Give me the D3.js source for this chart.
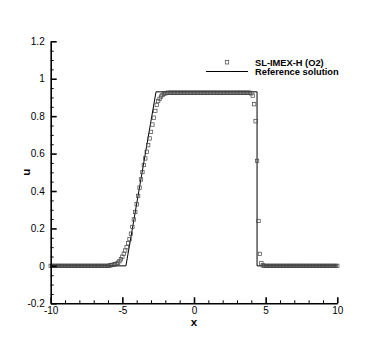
<!DOCTYPE html>
<html><head><meta charset="utf-8">
<script src="https://cdn.jsdelivr.net/npm/d3@7"></script>
<style>
body{margin:0;background:#fff;}
svg{display:block;font-family:"Liberation Sans",Arial,Helvetica,sans-serif;}
</style></head>
<body><svg id="c" width="384" height="342"></svg>
<script>
// Numerical solution SL-IMEX-H (O2): cell grid x = -10 .. 10, step 0.1
const gridStart = -10, gridEnd = 10, gridStep = 0.1;
const numU = [
 0,0,0,0,0,0,0,0,0,0, 0,0,0,0,0,0,0,0,0,0, 0,0,0,0,0,0,0,0,0,0, 0,0,0,0,0,0,0,0,0,0, 0,
 0.002,0.003,0.005,0.007,0.009,0.012,0.017,0.025,0.035,
 0.049,0.065,0.082,0.100,0.121,0.143,0.172,0.208,0.248,0.288,
 0.329,0.374,0.418,0.462,0.501,0.539,0.574,0.610,0.645,0.681,
 0.716,0.755,0.792,0.828,0.860,0.881,0.893,0.905,0.913,0.919,
 0.922,0.924,
 0.925,0.925,0.925,0.925,0.925,0.925,0.925,0.925,0.925,0.925,
 0.925,0.925,0.925,0.925,0.925,0.925,0.925,0.925,0.925,0.925,
 0.925,0.925,0.925,0.925,0.925,0.925,0.925,0.925,0.925,0.925,
 0.925,0.925,0.925,0.925,0.925,0.925,0.925,0.925,0.925,0.925,
 0.925,0.925,0.925,0.925,0.925,0.925,0.925,0.925,0.925,0.925,
 0.925,0.925,0.925,0.925,0.925,0.925,0.925,0.925,
 0.922,0.910,0.864,0.773,0.561,0.240,0.064,0.014,0.003,
 0,0,0,0,0,0,0,0,0,0, 0,0,0,0,0,0,0,0,0,0, 0,0,0,0,0,0,0,0,0,0,
 0,0,0,0,0,0,0,0,0,0, 0,0,0,0,0,0,0,0,0,0, 0,0
];
// Reference solution polyline
const refX = [-10, -4.75, -2.65, 4.4, 4.4, 10];
const refU = [0, 0, 0.93, 0.93, 0, 0];
// Axis ticks
const xMajor = [-10, -5, 0, 5, 10];
const yMajor = [-0.2, 0, 0.2, 0.4, 0.6, 0.8, 1, 1.2];
const legendLabels = ["SL-IMEX-H (O2)", "Reference solution"];

const svg = d3.select("#c");
const x = d3.scaleLinear().domain([-10, 10]).range([50.7, 337.3]);
const y = d3.scaleLinear().domain([-0.2, 1.2]).range([303.3, 41.3]);

const numX = d3.range(numU.length).map(i => gridStart + i * gridStep);

// Reference line
const line = d3.line().x(d => x(d[0])).y(d => y(d[1]));
svg.append("path")
  .datum(refX.map((v, i) => [v, refU[i]]))
  .attr("d", line).attr("fill", "none").attr("stroke", "#000").attr("stroke-width", 1);

// Markers
const s = 3.4;
svg.append("g").selectAll("rect").data(numU).join("rect")
  .attr("x", (d, i) => x(numX[i]) - s / 2)
  .attr("y", d => y(d) - s / 2)
  .attr("width", s).attr("height", s)
  .attr("fill", "none").attr("stroke", "#444").attr("stroke-width", 0.7);

// Axes
const fmt = d => String(d).replace("−", "-");
const xMinor = d3.range(-10, 10.001, 1).filter(v => !xMajor.includes(v));
const yMinor = d3.range(-0.2, 1.2001, 0.05).filter(v => !yMajor.some(m => Math.abs(m - v) < 1e-6));

const gx = svg.append("g").attr("transform", "translate(0,303.3)");
gx.call(d3.axisBottom(x).tickValues(xMajor).tickSizeInner(-6).tickSizeOuter(0).tickPadding(4).tickFormat(d => String(d)));
const gxm = svg.append("g").attr("transform", "translate(0,303.3)");
gxm.call(d3.axisBottom(x).tickValues(xMinor).tickSizeInner(-3).tickSizeOuter(0).tickFormat(""));
gxm.select(".domain").remove();

const gy = svg.append("g").attr("transform", "translate(50.7,0)");
gy.call(d3.axisLeft(y).tickValues(yMajor).tickSizeInner(-6).tickSizeOuter(0).tickPadding(6).tickFormat(d => String(Math.round(d * 10) / 10)));
const gym = svg.append("g").attr("transform", "translate(50.7,0)");
gym.call(d3.axisLeft(y).tickValues(yMinor).tickSizeInner(-3).tickSizeOuter(0).tickFormat(""));
gym.select(".domain").remove();

svg.selectAll(".domain").attr("stroke", "#000").attr("stroke-width", 1.6);
gx.selectAll(".tick line").attr("stroke-width", 1.6);
gy.selectAll(".tick line").attr("stroke-width", 1.6);
gxm.selectAll(".tick line").attr("stroke-width", 1);
gym.selectAll(".tick line").attr("stroke-width", 1);
svg.selectAll(".tick text").attr("font-size", 10).attr("fill", "#000")
  .attr("font-family", "'Liberation Sans',Arial,sans-serif");

// Axis titles
svg.append("text").text("x").attr("x", 194).attr("y", 326)
  .attr("text-anchor", "middle").attr("font-weight", "bold").attr("font-size", 11.5);
svg.append("text").text("u").attr("transform", "translate(30,172.3) rotate(-90)")
  .attr("text-anchor", "middle").attr("font-weight", "bold").attr("font-size", 11.5);

// Legend
svg.append("rect").attr("x", 227 - s / 2).attr("y", 62.3 - s / 2).attr("width", s).attr("height", s)
  .attr("fill", "none").attr("stroke", "#444").attr("stroke-width", 0.7);
svg.append("line").attr("x1", 206).attr("x2", 248).attr("y1", 71.5).attr("y2", 71.5)
  .attr("stroke", "#000").attr("stroke-width", 1);
svg.selectAll("text.leg").data(legendLabels).join("text").attr("class", "leg")
  .text(d => d).attr("x", 255).attr("y", (d, i) => 62.3 + i * 9.3).attr("dy", "0.35em")
  .attr("font-weight", "bold").attr("font-size", 9.3);
</script></body></html>
